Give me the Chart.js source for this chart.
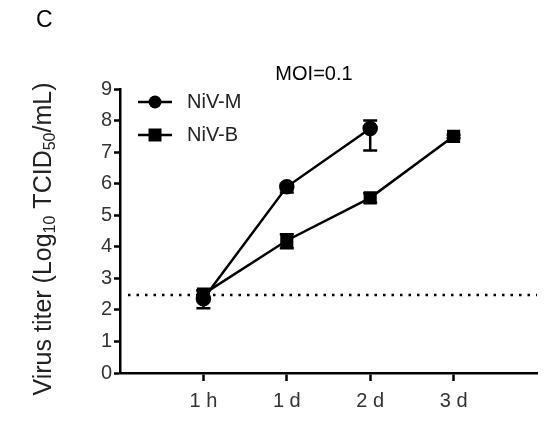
<!DOCTYPE html>
<html>
<head>
<meta charset="utf-8">
<script src="https://cdn.jsdelivr.net/npm/chart.js@4/dist/chart.umd.min.js"></script>
<style>
  html, body { margin: 0; padding: 0; background: #fff; }
  #wrap { width: 547px; height: 423px; position: relative; }
</style>
</head>
<body>
<div id="wrap"><canvas id="titerChart"></canvas></div>
<script>
// time points (x positions 1..4 on a 0..5 axis)
const timeLabels = ['1 h', '1 d', '2 d', '3 d'];
const timeX = [1, 2, 3, 4];

// NiV-M
const nivM = [2.35, 5.9, 7.75];
const nivMLow = [2.05, 5.72, 7.05];
const nivMHigh = [2.6, 6.0, 8.0];

// NiV-B
const nivB = [2.5, 4.2, 5.55, 7.5];
const nivBLow = [2.35, 3.95, 5.4, 7.45];
const nivBHigh = [2.62, 4.4, 5.7, 7.55];

const detectionLimit = 2.47;
const yTicks = [0, 1, 2, 3, 4, 5, 6, 7, 8, 9];

const FONT = '"Liberation Sans", Arial, sans-serif';

function toPoints(values) {
    return values.map((v, i) => ({ x: timeX[i], y: v }));
}

// error bars with caps
const errorBarPlugin = {
    id: 'errorBars',
    afterDatasetsDraw(chart) {
        const ctx = chart.ctx;
        const xs = chart.scales.x, ys = chart.scales.y;
        chart.data.datasets.forEach((ds) => {
            ctx.save();
            ctx.strokeStyle = '#000';
            ctx.lineWidth = 2.5;
            ds.data.forEach((p, i) => {
                const x = xs.getPixelForValue(p.x);
                const yl = ys.getPixelForValue(ds.errLow[i]);
                const yh = ys.getPixelForValue(ds.errHigh[i]);
                ctx.beginPath();
                ctx.moveTo(x, yl); ctx.lineTo(x, yh);
                ctx.moveTo(x - 7, yl); ctx.lineTo(x + 7, yl);
                ctx.moveTo(x - 7, yh); ctx.lineTo(x + 7, yh);
                ctx.stroke();
            });
            ctx.restore();
        });
    }
};

// dotted detection limit, texts, legend, y title
const decorPlugin = {
    id: 'decor',
    beforeDatasetsDraw(chart) {
        const ctx = chart.ctx;
        const area = chart.chartArea;
        const y = chart.scales.y.getPixelForValue(detectionLimit);
        ctx.save();
        ctx.strokeStyle = '#000';
        ctx.lineWidth = 2.5;
        ctx.setLineDash([2.5, 6]);
        ctx.beginPath();
        ctx.moveTo(area.left + 8, y);
        ctx.lineTo(area.right, y);
        ctx.stroke();
        ctx.restore();
    },
    afterDraw(chart) {
        const ctx = chart.ctx;
        ctx.save();
        ctx.fillStyle = '#000';
        ctx.textBaseline = 'middle';

        // panel letter and title
        ctx.font = '23px ' + FONT;
        ctx.textAlign = 'left';
        ctx.fillText('C', 36, 21);
        ctx.font = '20px ' + FONT;
        ctx.textAlign = 'center';
        ctx.fillText('MOI=0.1', 314, 74);

        // legend
        const legendRows = [
            { label: 'NiV-M', style: 'circle', y: 102 },
            { label: 'NiV-B', style: 'rect', y: 135 }
        ];
        legendRows.forEach((r) => {
            ctx.strokeStyle = '#000';
            ctx.lineWidth = 2.5;
            ctx.beginPath();
            ctx.moveTo(138, r.y); ctx.lineTo(172, r.y);
            ctx.stroke();
            ctx.beginPath();
            if (r.style === 'circle') {
                ctx.arc(155, r.y, 6.5, 0, Math.PI * 2);
            } else {
                ctx.rect(148.5, r.y - 6.5, 13, 13);
            }
            ctx.fill();
            ctx.font = '20px ' + FONT;
            ctx.textAlign = 'left';
            ctx.fillStyle = '#222';
            ctx.fillText(r.label, 187, r.y);
            ctx.fillStyle = '#000';
        });

        // y axis title with subscripts
        const parts = [
            ['Virus titer (Log', 25, 0],
            ['10', 16, 7],
            [' TCID', 25, 0],
            ['50', 16, 7],
            ['/mL)', 25, 0]
        ];
        let total = 0;
        parts.forEach((p) => { ctx.font = p[1] + 'px ' + FONT; total += ctx.measureText(p[0]).width; });
        ctx.translate(44, 239);
        ctx.rotate(-Math.PI / 2);
        ctx.textAlign = 'left';
        ctx.fillStyle = '#222';
        let x = -total / 2;
        parts.forEach((p) => {
            ctx.font = p[1] + 'px ' + FONT;
            ctx.fillText(p[0], x, p[2]);
            x += ctx.measureText(p[0]).width;
        });
        ctx.restore();
    }
};

new Chart(document.getElementById('titerChart'), {
    type: 'line',
    data: {
        datasets: [
            {
                label: 'NiV-M',
                data: toPoints(nivM),
                errLow: nivMLow,
                errHigh: nivMHigh,
                borderColor: '#000',
                backgroundColor: '#000',
                borderWidth: 2.5,
                pointStyle: 'circle',
                pointRadius: 6.5,
                pointHoverRadius: 6.5,
                tension: 0
            },
            {
                label: 'NiV-B',
                data: toPoints(nivB),
                errLow: nivBLow,
                errHigh: nivBHigh,
                borderColor: '#000',
                backgroundColor: '#000',
                borderWidth: 2.5,
                pointStyle: 'rect',
                pointRadius: 7.5,
                pointHoverRadius: 7.5,
                tension: 0
            }
        ]
    },
    options: {
        responsive: true,
        maintainAspectRatio: false,
        animation: false,
        layout: { padding: { top: 89, right: 4, bottom: 0, left: 0 } },
        scales: {
            x: {
                type: 'linear',
                min: 0,
                max: 5,
                afterBuildTicks: (axis) => { axis.ticks = timeX.map((v) => ({ value: v })); },
                afterFit: (axis) => { axis.height = 50; },
                border: { display: true, color: '#000', width: 2.5 },
                grid: { drawOnChartArea: false, drawTicks: true, tickLength: 8, tickColor: '#000', tickWidth: 2.5 },
                ticks: {
                    color: '#333',
                    font: { family: FONT, size: 20 },
                    padding: 8,
                    maxRotation: 0,
                    callback: (v) => timeLabels[timeX.indexOf(v)] ?? ''
                }
            },
            y: {
                min: 0,
                max: 9,
                afterBuildTicks: (axis) => { axis.ticks = yTicks.map((v) => ({ value: v })); },
                afterFit: (axis) => { axis.width = 120; },
                border: { display: true, color: '#000', width: 2.5 },
                grid: { drawOnChartArea: false, drawTicks: true, tickLength: 6, tickColor: '#000', tickWidth: 2.5 },
                ticks: {
                    color: '#333',
                    font: { family: FONT, size: 20 },
                    padding: 2
                }
            }
        },
        plugins: {
            legend: { display: false },
            title: { display: false },
            tooltip: { enabled: false }
        }
    },
    plugins: [decorPlugin, errorBarPlugin]
});
</script>
</body>
</html>
